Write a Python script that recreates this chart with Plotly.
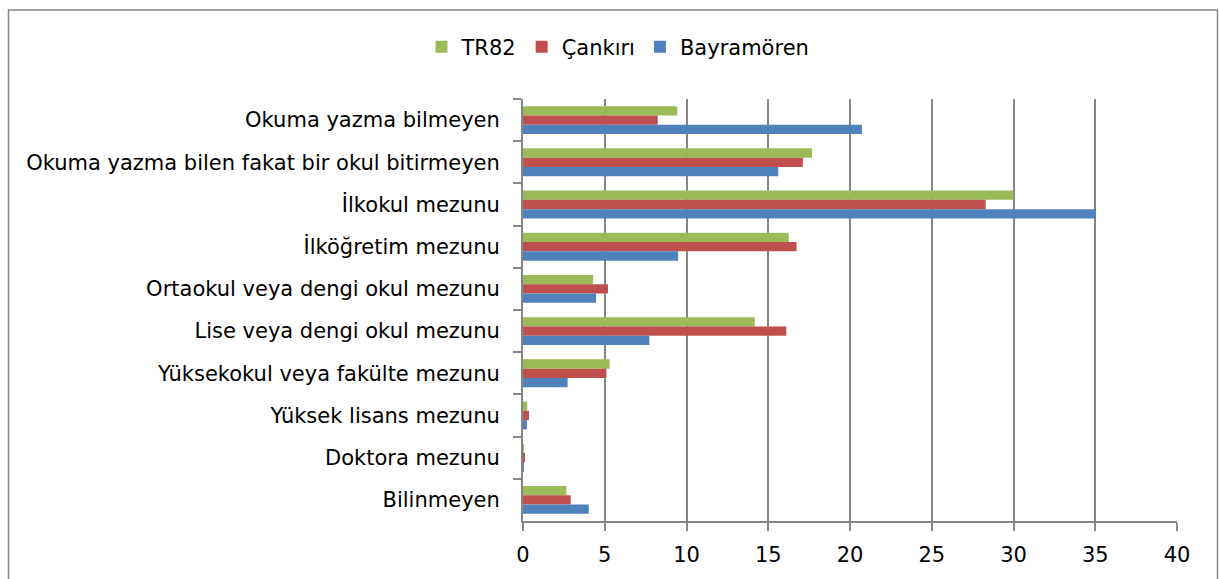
import plotly.graph_objects as go

categories = [
    "Okuma yazma bilmeyen",
    "Okuma yazma bilen fakat bir okul bitirmeyen",
    "İlkokul mezunu",
    "İlköğretim mezunu",
    "Ortaokul veya dengi okul mezunu",
    "Lise veya dengi okul mezunu",
    "Yüksekokul veya fakülte mezunu",
    "Yüksek lisans mezunu",
    "Doktora mezunu",
    "Bilinmeyen",
]
tr82 = [9.43, 17.67, 30.0, 16.25, 4.29, 14.18, 5.3, 0.26, 0.03, 2.65]
cankiri = [8.24, 17.12, 28.3, 16.73, 5.2, 16.1, 5.1, 0.37, 0.08, 2.92]
bayramoren = [20.73, 15.61, 35.05, 9.49, 4.47, 7.73, 2.73, 0.24, 0.02, 4.02]
x_ticks = [0, 5, 10, 15, 20, 25, 30, 35, 40]

W, H = 1219, 579
L, R, T, B = 523, 1177, 99, 523

FONT = "Tahoma, 'DejaVu Sans', sans-serif"

fig = go.Figure()
for name, vals, col in [("TR82", tr82, "#9BBB59"),
                        ("Çankırı", cankiri, "#C0504D"),
                        ("Bayramören", bayramoren, "#4F81BD")]:
    fig.add_trace(go.Bar(y=categories, x=vals, name=name, orientation="h",
                         marker=dict(color=col, line=dict(width=0))))

def px_x(p):
    return (p - L) / (R - L)

def px_y(p):
    return (B - p) / (B - T)

fig.update_layout(
    width=W, height=H,
    margin=dict(l=L, r=W - R, t=T, b=H - B, pad=0),
    paper_bgcolor="white", plot_bgcolor="white",
    barmode="group", bargap=0.34, bargroupgap=0,
    font=dict(family=FONT, size=21, color="#000000"),
    legend=dict(orientation="h", xref="container", yref="container",
                x=618 / W, xanchor="center", y=1 - 47 / H, yanchor="middle",
                font=dict(size=21), itemwidth=30, traceorder="normal"),
    xaxis=dict(range=[0, 40], tickvals=x_ticks, ticktext=[str(v) for v in x_ticks],
               showgrid=True, gridcolor="#868686", gridwidth=2,
               showline=True, linecolor="#868686", linewidth=2,
               ticks="outside", ticklen=8, tickcolor="#868686", tickwidth=2,
               zeroline=False, ticklabelstandoff=6),
    yaxis=dict(autorange="reversed", showgrid=False, showline=True,
               linecolor="#868686", linewidth=2, ticks="outside", ticklen=8,
               tickcolor="#868686", tickwidth=2, tickson="boundaries",
               ticklabelstandoff=17),
    shapes=[dict(type="rect", xref="paper", yref="paper",
                 x0=px_x(8.5), x1=px_x(1217.5), y0=px_y(590), y1=px_y(9.5),
                 line=dict(color="#868686", width=1.5), fillcolor="rgba(0,0,0,0)",
                 layer="below")],
)

fig.write_html("out.html", config={"displayModeBar": False},
               post_script="document.body.style.margin='0';document.body.style.overflow='hidden';")
